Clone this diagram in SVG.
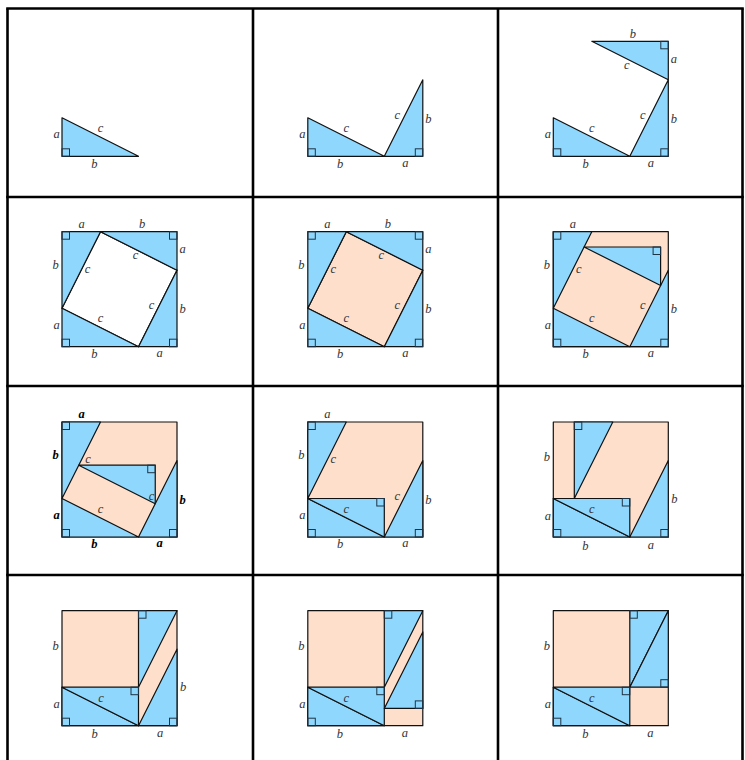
<svg xmlns="http://www.w3.org/2000/svg" xmlns:xlink="http://www.w3.org/1999/xlink" width="745" height="760" viewBox="0 0 745 760">
<style>
.grid{stroke:#000;stroke-width:2.6;fill:none}
.blue{fill:#8fd7fc;stroke:#111;stroke-width:1.2;stroke-linejoin:round}
.peach{fill:#fedfcb;stroke:#111;stroke-width:1.2;stroke-linejoin:round}
.white{fill:#fff;stroke:#111;stroke-width:1.2;stroke-linejoin:round}
.ra{fill:none;stroke:#1d3447;stroke-width:1}
text{font-family:"Liberation Serif","Times New Roman",serif;font-style:italic;font-size:12.5px;fill:#333;text-anchor:middle}
.bd{font-weight:bold;fill:#000}
</style>
<defs>
<polygon id="TL" class="blue" points="0,0 38.5,0 0,76.5"/>
<polygon id="TR" class="blue" points="38.5,0 115,0 115,38.5"/>
<polygon id="BR" class="blue" points="76.5,115 115,115 115,38.5"/>
<polygon id="BL" class="blue" points="0,76.5 0,115 76.5,115"/>
<polygon id="MB" class="blue" points="0,76.5 76.5,76.5 76.5,115"/>
<polygon id="TLm" class="blue" points="76.5,0 115,0 76.5,76.5"/>
<rect id="ra" class="ra" width="7.5" height="7.5"/>
<rect id="sq" class="peach" width="115" height="115"/>
</defs>
<g id="grid">
<line class="grid" x1="6.2" y1="8.5" x2="743.8" y2="8.5"/>
<line class="grid" x1="6.2" y1="197" x2="743.8" y2="197"/>
<line class="grid" x1="6.2" y1="386" x2="743.8" y2="386"/>
<line class="grid" x1="6.2" y1="575" x2="743.8" y2="575"/>
<line class="grid" x1="7.5" y1="8.5" x2="7.5" y2="760"/>
<line class="grid" x1="253" y1="8.5" x2="253" y2="760"/>
<line class="grid" x1="498" y1="8.5" x2="498" y2="760"/>
<line class="grid" x1="742.5" y1="8.5" x2="742.5" y2="760"/>
</g>
<g id="connectors"/>
<g id="cell1" transform="translate(62,41.3)">
<use xlink:href="#BL"/><use xlink:href="#ra" x="0" y="107.5"/>
<text x="-5.5" y="97">a</text><text x="38.5" y="91">c</text><text x="32.3" y="127">b</text>
</g>
<g id="cell2" transform="translate(307.8,41.3)">
<use xlink:href="#BL"/><use xlink:href="#BR"/>
<use xlink:href="#ra" x="0" y="107.5"/><use xlink:href="#ra" x="107.5" y="107.5"/>
<text x="-5.5" y="97">a</text><text x="38.5" y="91">c</text><text x="32.3" y="127">b</text>
<text x="89.5" y="78">c</text><text x="120.5" y="81.5">b</text><text x="97.5" y="126">a</text>
</g>
<g id="cell3" transform="translate(553.3,41.3)">
<use xlink:href="#BL"/><use xlink:href="#BR"/><use xlink:href="#TR"/>
<use xlink:href="#ra" x="0" y="107.5"/><use xlink:href="#ra" x="107.5" y="107.5"/><use xlink:href="#ra" x="107.5" y="0"/>
<text x="-5.5" y="97">a</text><text x="38.5" y="91">c</text><text x="32.3" y="127">b</text>
<text x="89.5" y="78">c</text><text x="120.5" y="81.5">b</text><text x="97.5" y="126">a</text>
<text x="79.5" y="-3.5">b</text><text x="120.5" y="21.5">a</text><text x="73.5" y="27.5">c</text>
</g>
<g id="cell4" transform="translate(62,231.7)">
<polygon class="white" points="38.5,0 115,38.5 76.5,115 0,76.5"/>
<use xlink:href="#TL"/><use xlink:href="#TR"/><use xlink:href="#BR"/><use xlink:href="#BL"/>
<use xlink:href="#ra" x="0" y="0"/><use xlink:href="#ra" x="107.5" y="0"/><use xlink:href="#ra" x="107.5" y="107.5"/><use xlink:href="#ra" x="0" y="107.5"/>
<text x="19.5" y="-4">a</text><text x="80" y="-3.5">b</text><text x="120.5" y="21">a</text><text x="120.5" y="81.5">b</text>
<text x="-6.5" y="37">b</text><text x="-5.5" y="97">a</text><text x="32.3" y="126">b</text><text x="97.5" y="125">a</text>
<text x="73.5" y="27">c</text><text x="25.5" y="41">c</text><text x="89.5" y="77.5">c</text><text x="38.5" y="90.5">c</text>
</g>
<g id="cell5" transform="translate(307.8,231.7)">
<polygon class="peach" points="38.5,0 115,38.5 76.5,115 0,76.5"/>
<use xlink:href="#TL"/><use xlink:href="#TR"/><use xlink:href="#BR"/><use xlink:href="#BL"/>
<use xlink:href="#ra" x="0" y="0"/><use xlink:href="#ra" x="107.5" y="0"/><use xlink:href="#ra" x="107.5" y="107.5"/><use xlink:href="#ra" x="0" y="107.5"/>
<text x="19.5" y="-4">a</text><text x="80" y="-3.5">b</text><text x="120.5" y="21">a</text><text x="120.5" y="81.5">b</text>
<text x="-6.5" y="37">b</text><text x="-5.5" y="97">a</text><text x="32.3" y="126">b</text><text x="97.5" y="125">a</text>
<text x="73.5" y="27">c</text><text x="25.5" y="41">c</text><text x="89.5" y="77.5">c</text><text x="38.5" y="90.5">c</text>
</g>
<g id="cell6" transform="translate(553.3,231.7)">
<use xlink:href="#sq"/>
<use xlink:href="#TL"/><use xlink:href="#BR"/><use xlink:href="#BL"/>
<polygon class="blue" points="30.8,15.3 107.3,15.3 107.3,53.8"/>
<use xlink:href="#ra" x="0" y="0"/><use xlink:href="#ra" x="107.5" y="107.5"/><use xlink:href="#ra" x="0" y="107.5"/><use xlink:href="#ra" x="99.8" y="15.3"/>
<text x="19.5" y="-4">a</text><text x="120.5" y="81.5">b</text>
<text x="-6.5" y="37">b</text><text x="-5.5" y="97">a</text><text x="32.3" y="126">b</text><text x="97.5" y="125">a</text>
<text x="25.5" y="41">c</text><text x="89.5" y="77.5">c</text><text x="38.5" y="90.5">c</text>
</g>
<g id="cell7" transform="translate(62,422)">
<use xlink:href="#sq"/>
<use xlink:href="#TL"/><use xlink:href="#BR"/><use xlink:href="#BL"/>
<polygon class="blue" points="16.75,43.2 93.25,43.2 93.25,81.7"/>
<use xlink:href="#ra" x="0" y="0"/><use xlink:href="#ra" x="107.5" y="107.5"/><use xlink:href="#ra" x="0" y="107.5"/><use xlink:href="#ra" x="85.75" y="43.2"/>
<text class="bd" x="19.5" y="-4">a</text><text class="bd" x="120.5" y="81.5">b</text>
<text class="bd" x="-6.5" y="37">b</text><text class="bd" x="-5.5" y="97">a</text><text class="bd" x="32.3" y="126">b</text><text class="bd" x="97.5" y="125">a</text>
<text x="26" y="41">c</text><text x="89.5" y="77.5">c</text><text x="38.5" y="90.5">c</text>
</g>
<g id="cell8" transform="translate(307.8,422)">
<use xlink:href="#sq"/>
<use xlink:href="#TL"/><use xlink:href="#BR"/><use xlink:href="#BL"/><use xlink:href="#MB"/>
<use xlink:href="#ra" x="0" y="0"/><use xlink:href="#ra" x="107.5" y="107.5"/><use xlink:href="#ra" x="0" y="107.5"/><use xlink:href="#ra" x="69" y="76.5"/>
<text x="19.5" y="-4">a</text><text x="120.5" y="81.5">b</text>
<text x="-6.5" y="37">b</text><text x="-5.5" y="97">a</text><text x="32.3" y="126">b</text><text x="97.5" y="125">a</text>
<text x="25.5" y="41">c</text><text x="89.5" y="77.5">c</text><text x="38.5" y="90.5">c</text>
</g>
<g id="cell9" transform="translate(553.3,422)">
<use xlink:href="#sq"/>
<polygon class="blue" points="21,0 59.5,0 21,76.5"/>
<use xlink:href="#BR"/><use xlink:href="#BL"/><use xlink:href="#MB"/>
<use xlink:href="#ra" x="21" y="0"/><use xlink:href="#ra" x="107.5" y="107.5"/><use xlink:href="#ra" x="0" y="107.5"/><use xlink:href="#ra" x="69" y="76.5"/>
<text x="121" y="81">b</text>
<text x="-6.5" y="39">b</text><text x="-5.5" y="97.5">a</text><text x="32" y="128">b</text><text x="97.5" y="127">a</text>
<text x="38.5" y="91">c</text>
</g>
<g id="cell10" transform="translate(62,610.7)">
<use xlink:href="#sq"/>
<use xlink:href="#TLm"/><use xlink:href="#BR"/><use xlink:href="#BL"/><use xlink:href="#MB"/>
<use xlink:href="#ra" x="76.5" y="0"/><use xlink:href="#ra" x="107.5" y="107.5"/><use xlink:href="#ra" x="0" y="107.5"/><use xlink:href="#ra" x="69" y="76.5"/>
<text x="121" y="80">b</text>
<text x="-6.5" y="39.5">b</text><text x="-5.5" y="97.5">a</text><text x="32.5" y="127.5">b</text><text x="98" y="126.5">a</text>
<text x="39" y="91">c</text>
</g>
<g id="cell11" transform="translate(307.8,610.7)">
<use xlink:href="#sq"/>
<use xlink:href="#TLm"/><use xlink:href="#BL"/><use xlink:href="#MB"/>
<polygon class="blue" points="76.5,97.7 115,97.7 115,21.2"/>
<use xlink:href="#ra" x="76.5" y="0"/><use xlink:href="#ra" x="107.5" y="90.2"/><use xlink:href="#ra" x="0" y="107.5"/><use xlink:href="#ra" x="69" y="76.5"/>
<text x="-6.5" y="39.5">b</text><text x="-5.5" y="97.5">a</text><text x="32" y="127.5">b</text><text x="97" y="126.5">a</text>
<text x="38.5" y="91">c</text>
</g>
<g id="cell12" transform="translate(553.3,610.7)">
<use xlink:href="#sq"/>
<use xlink:href="#TLm"/><use xlink:href="#BL"/><use xlink:href="#MB"/>
<polygon class="blue" points="76.5,76.5 115,76.5 115,0"/>
<use xlink:href="#ra" x="76.5" y="0"/><use xlink:href="#ra" x="107.5" y="69"/><use xlink:href="#ra" x="0" y="107.5"/><use xlink:href="#ra" x="69" y="76.5"/>
<text x="-6.5" y="39.5">b</text><text x="-5.5" y="97.5">a</text><text x="32" y="127.5">b</text><text x="97" y="126.5">a</text>
<text x="38.5" y="91">c</text>
</g>
</svg>
